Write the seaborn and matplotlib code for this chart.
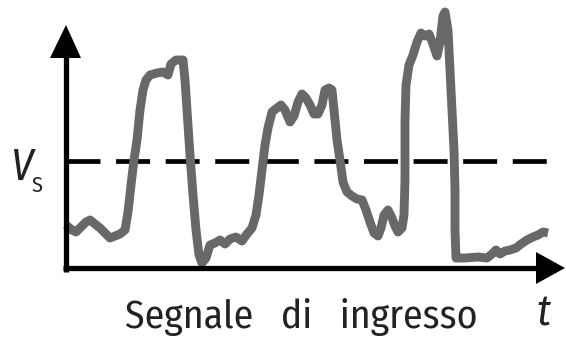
import numpy as np
import pandas as pd
import seaborn as sns
import matplotlib.pyplot as plt

# signal (t along the axis, v above the t axis)
t = [0, 6, 10, 14, 20, 24, 29, 34, 40, 44, 49, 54, 59, 62, 65, 68, 71, 74, 77, 80, 84,
     91, 97, 102, 105, 110, 117, 119, 121, 124, 127, 130, 133, 136, 140, 144, 149, 154,
     159, 164, 170, 176, 181, 186, 190, 193, 196, 199, 202, 206, 211, 215, 219, 224, 228,
     232, 236, 240, 244, 248, 252, 256, 259, 263, 266, 268, 271, 274, 277, 281, 286, 291,
     296, 300, 304, 308, 312, 315, 318, 322, 326, 329, 332, 336, 338, 339, 339, 340, 343,
     347, 351, 355, 359, 363, 367, 371, 374, 377, 379, 382, 384, 386, 388, 389, 389, 390,
     399, 412, 421, 426, 430, 434, 439, 444, 450, 455, 461, 467, 472, 477, 482]
v = [43, 38, 36, 40, 46, 48, 44, 40, 34, 30, 32, 34, 38, 56, 83, 108, 128, 158, 178, 188,
     193, 195, 196, 193, 204, 208, 208, 188, 158, 113, 73, 38, 13, 5, 10, 23, 25, 28, 24,
     29, 31, 27, 34, 40, 53, 73, 98, 123, 140, 156, 160, 163, 158, 146, 152, 166, 174, 170,
     163, 154, 154, 163, 178, 180, 178, 158, 128, 108, 86, 76, 72, 69, 68, 58, 46, 35, 32,
     40, 53, 58, 50, 42, 36, 40, 53, 88, 148, 183, 203, 213, 226, 235, 232, 234, 224, 212,
     226, 252, 256, 238, 198, 158, 118, 78, 38, 10, 10, 11, 10, 14, 18, 14, 17, 18, 20, 24,
     28, 31, 33, 36, 35]
v_s = 107

sns.set_style("white")
plt.rcParams["font.family"] = ["Fira Sans Condensed", "DejaVu Sans"]

fig = plt.figure(figsize=(5.66, 3.39), dpi=100)
ax = fig.add_axes([0, 0, 1, 1])
ax.set_xlim(-66, 500)
ax.set_ylim(-71, 268)
ax.set_axis_off()

# threshold
ax.hlines(v_s, 0, 481, colors="black", lw=3.4, linestyles=(0, (7.2, 3.3)))

# signal
sns.lineplot(x=t, y=v, sort=False, estimator=None, color="#686868", lw=6.4,
             ax=ax, legend=False)
ax.lines[-1].set_solid_joinstyle("round")
ax.lines[-1].set_solid_capstyle("butt")

# axes with arrow heads
ax.plot([0, 0], [-4, 212], color="black", lw=3.8, solid_capstyle="butt")
ax.plot([-3, 472], [0, 0], color="black", lw=3.8, solid_capstyle="butt")
ax.fill([-16, 15, 0], [210, 210, 243], color="black", lw=0)
ax.fill([470, 470, 499], [16, -16, 0], color="black", lw=0)

# labels
ax.text(-56, 88, "V", fontsize=32, style="italic", va="baseline", ha="left", color="#222222")
ax.text(-34, 76, "S", fontsize=16, va="baseline", ha="left", color="#222222")
ax.text(59, -60, "Segnale   di   ingresso", fontsize=28.5,
        va="baseline", ha="left", color="#222222")
ax.text(470, -57, "t", fontsize=31, style="italic", va="baseline", ha="left", color="#222222")

fig.savefig("out.png", dpi=100)
